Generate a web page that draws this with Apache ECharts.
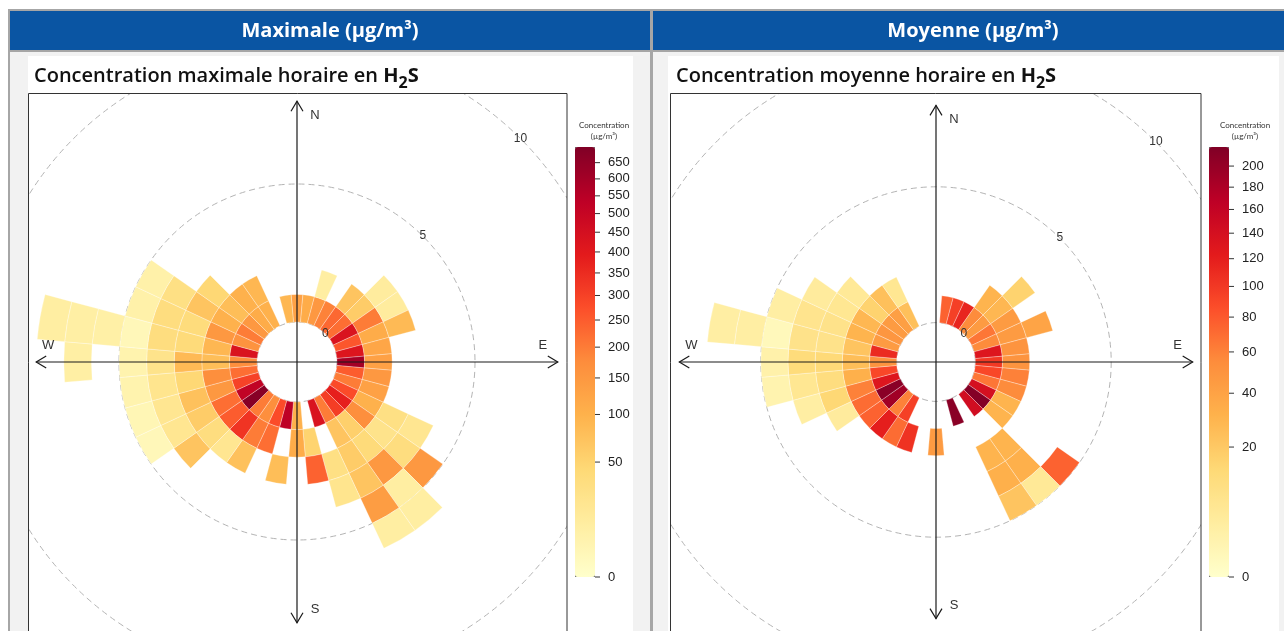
<!DOCTYPE html>
<html>
<head>
<meta charset="utf-8">
<title>Concentration horaire en H2S</title>
<script src="https://cdn.jsdelivr.net/npm/echarts@6.0.0/dist/echarts.min.js"></script>
<style>
  html, body { margin: 0; padding: 0; background: #ffffff; }
  #chart { width: 1284px; height: 631px; }
</style>
</head>
<body>
<div id="chart"></div>
<script>
// wind direction sectors (degrees, sector centres)
const directions = [0, 10, 20, 30, 40, 50, 60, 70, 80, 90, 100, 110, 120, 130, 140, 150, 160, 170,
  180, 190, 200, 210, 220, 230, 240, 250, 260, 270, 280, 290, 300, 310, 320, 330, 340, 350];

// maximum hourly H2S (µg/m3), one array per wind speed class (0-1, 1-2, ... m/s), one value per direction
const maxWs1 = [130, 110, 150, 190, 230, 220, 430, 260, 420, 600, 250, 200, 280, 380, 310, 200, 430, null,
  100, 530, 280, 170, 200, 680, 520, 300, 220, 170, 430, 160, 200, 150, 110, 100, null, 90];
const maxWs2 = [null, null, 10, null, 70, 60, 200, 110, 120, 130, 150, 130, 100, 170, 55, 70, null, 50,
  110, null, 220, 200, 330, 250, 220, 150, 170, 80, 90, 150, 100, 80, 100, 90, null, null];
const maxWs3 = [null, null, null, null, null, 12, 12, 85, null, null, null, null, 30, 25, 40, 60, 30, 240,
  null, 80, null, 75, 20, 35, 60, 75, 45, 85, 40, 38, 70, 45, null, null, null, null];
const maxWs4 = [null, null, null, null, null, null, null, null, null, null, null, null, 20, 35, 150, 70, 22, null,
  null, null, null, null, null, 70, 20, 20, 22, 25, 35, 35, 30, null, null, null, null, null];
const maxWs5 = [null, null, null, null, null, null, null, null, null, null, null, null, null, 150, 10, 140, null, null,
  null, null, null, null, null, null, 2, 3, 5, 5, 2, 7, 7, null, null, null, null, null];
const maxWs6 = [null, null, null, null, null, null, null, null, null, null, null, null, null, null, 10, 10, null, null,
  null, null, null, null, null, null, null, null, null, null, 8, null, null, null, null, null, null, null];
const maxWs7 = [null, null, null, null, null, null, null, null, null, null, null, null, null, null, null, null, null, null,
  null, null, null, null, null, null, null, null, null, 9, 9, null, null, null, null, null, null, null];
const maxWs8 = [null, null, null, null, null, null, null, null, null, null, null, null, null, null, null, null, null, null,
  null, null, null, null, null, null, null, null, null, null, 10, null, null, null, null, null, null, null];

// mean hourly H2S (µg/m3)
const meanWs1 = [null, 75, 95, 115, 55, 45, 65, 55, 130, 100, 90, 65, 140, 215, 145, null, 210, null,
  null, null, null, 95, 60, 190, 210, 130, 90, 50, 110, 45, 48, 45, 42, 24, null, null];
const meanWs2 = [null, null, null, null, 30, 28, 45, 45, 50, 50, 60, 55, 30, 30, null, null, null, null,
  45, null, 105, 70, 120, 75, 70, 60, 32, 25, 22, 30, 28, 16, 24, 6, null, null];
const meanWs3 = [null, null, null, null, null, 16, null, 39, null, null, null, null, null, null, 30, 30, null, null,
  null, null, null, null, null, null, 4, 14, 11, 13, 8, 8, 6, 5, null, null, null, null];
const meanWs4 = [null, null, null, null, null, null, null, null, null, null, null, null, null, null, 32, 32, null, null,
  null, null, null, null, null, null, null, 3, 6, 12, 8, 7, 4, null, null, null, null, null];
const meanWs5 = [null, null, null, null, null, null, null, null, null, null, null, null, null, 75, 5, 22, null, null,
  null, null, null, null, null, null, null, null, 1.5, 2, 0.5, 3, null, null, null, null, null, null];
const meanWs6 = [null, null, null, null, null, null, null, null, null, null, null, null, null, null, null, null, null, null,
  null, null, null, null, null, null, null, null, null, null, 3, null, null, null, null, null, null, null];
const meanWs7 = [null, null, null, null, null, null, null, null, null, null, null, null, null, null, null, null, null, null,
  null, null, null, null, null, null, null, null, null, null, 3, null, null, null, null, null, null, null];

// colour key
const maxTicks = [0, 50, 100, 150, 200, 250, 300, 350, 400, 450, 500, 550, 600, 650];
const meanTicks = [0, 20, 40, 60, 80, 100, 120, 140, 160, 180, 200];
const maxTop = 700;
const meanTop = 219;

// wind speed rings
const ringLabels = [0, 5, 10];
const compassReach = 8;

const YLORRD = ['#ffffcc', '#ffeda0', '#fed976', '#feb24c', '#fd8d3c', '#fc4e2a', '#e31a1c', '#bd0026', '#800026'];
const BLUE = '#0a55a3';
const GREY = '#f2f2f2';
const LINE = '#a6a6a6';
const FONT = 'Liberation Sans';
const TITLE_FONT = 'Open Sans';

function cellsFrom(bins) {
  const cells = [];
  bins.forEach((arr, k) => {
    arr.forEach((v, i) => {
      if (v != null) cells.push([k + 1, directions[i], Math.sqrt(v), v]);
    });
  });
  return cells;
}

function renderCell(params, api) {
  const cs = params.coordSys;
  const bin = api.value(0), dir = api.value(1);
  const pIn = api.coord([bin - 1, dir]);
  const pOut = api.coord([bin, dir]);
  const pA = api.coord([bin, (dir + 355) % 360]);
  const pB = api.coord([bin, (dir + 5) % 360]);
  const start = Math.atan2(pA[1] - cs.cy, pA[0] - cs.cx);
  let end = Math.atan2(pB[1] - cs.cy, pB[0] - cs.cx);
  while (end < start) end += Math.PI * 2;
  return {
    type: 'sector',
    shape: {
      cx: cs.cx, cy: cs.cy,
      r0: Math.hypot(pIn[0] - cs.cx, pIn[1] - cs.cy),
      r: Math.hypot(pOut[0] - cs.cx, pOut[1] - cs.cy),
      startAngle: start, endAngle: end, clockwise: true
    },
    style: { fill: api.visual('color'), stroke: 'rgba(255,255,255,0.5)', lineWidth: 0.6 }
  };
}

const compassPoints = [
  { label: 'N', deg: 0, dx: 18, dy: 14 },
  { label: 'E', deg: 90, dx: -15, dy: -17 },
  { label: 'S', deg: 180, dx: 18, dy: -13 },
  { label: 'W', deg: 270, dx: 12, dy: -17 }
];

function renderCompass(params, api) {
  const cs = params.coordSys;
  const kids = [];
  const ink = '#1a1a1a';
  const pts = compassPoints.map(c => api.coord([compassReach, c.deg]));
  kids.push({ type: 'line', shape: { x1: pts[0][0], y1: pts[0][1], x2: pts[2][0], y2: pts[2][1] }, style: { stroke: ink, lineWidth: 1.2 } });
  kids.push({ type: 'line', shape: { x1: pts[3][0], y1: pts[3][1], x2: pts[1][0], y2: pts[1][1] }, style: { stroke: ink, lineWidth: 1.2 } });
  compassPoints.forEach((c, i) => {
    const p = pts[i];
    const len = Math.hypot(p[0] - cs.cx, p[1] - cs.cy);
    const ux = (p[0] - cs.cx) / len, uy = (p[1] - cs.cy) / len;
    const bx = p[0] - ux * 10, by = p[1] - uy * 10;
    kids.push({
      type: 'polyline',
      shape: { points: [[bx - uy * 6, by + ux * 6], [p[0], p[1]], [bx + uy * 6, by - ux * 6]] },
      style: { stroke: ink, fill: null, lineWidth: 1.2 }
    });
    kids.push({
      type: 'text', x: p[0] + c.dx, y: p[1] + c.dy,
      style: { text: c.label, fill: '#333', fontSize: 13, fontFamily: FONT, align: 'center', verticalAlign: 'middle' }
    });
  });
  ringLabels.forEach(v => {
    const p = api.coord([v, 45]);
    kids.push({
      type: 'text', x: p[0], y: p[1],
      style: { text: String(v), fill: '#333', fontSize: 12, fontFamily: FONT, align: 'center', verticalAlign: 'middle' }
    });
  });
  return { type: 'group', children: kids };
}

// tick marks and labels of a colour key, placed through the key grid's own y scale
function renderKeyTick(params, api) {
  const p = api.coord([1, api.value(1)]);
  return {
    type: 'group',
    children: [
      { type: 'line', shape: { x1: p[0], y1: p[1], x2: p[0] + 5, y2: p[1] }, style: { stroke: '#333', lineWidth: 1 } },
      { type: 'text', x: p[0] + 13, y: p[1],
        style: { text: String(api.value(2)), fill: '#222', fontSize: 13, fontFamily: FONT, align: 'left', verticalAlign: 'middle' } }
    ]
  };
}

function keyAxis(gridIndex, topValue) {
  return { gridIndex, type: 'value', min: 0, max: Math.sqrt(topValue), show: false };
}

function keyBar(seriesIndex, topValue, left) {
  return {
    type: 'continuous', seriesIndex, dimension: 2, min: 0, max: Math.sqrt(topValue),
    inRange: { color: YLORRD }, left, top: 147, itemWidth: 20, itemHeight: 430,
    padding: 0, calculable: false, hoverLink: false, z: 60
  };
}

function rect(x, y, w, h, fill, z) {
  return { type: 'rect', silent: true, z, shape: { x, y, width: w, height: h }, style: { fill } };
}
function frame(x, y, w, h) {
  return { type: 'rect', silent: true, z: 52, shape: { x, y, width: w, height: h }, style: { fill: null, stroke: '#333', lineWidth: 1 } };
}
function title(x, main) {
  const base = { fontSize: 20, fontFamily: TITLE_FONT, fontWeight: 600, fill: '#111', lineHeight: 24, verticalAlign: 'bottom', padding: [0, 0, 5, 0] };
  return {
    type: 'text', silent: true, z: 53, x, y: 67,
    style: {
      text: '{t|' + main + ' }{h|H}{s|2}{h|S}', verticalAlign: 'top',
      rich: {
        t: base,
        h: Object.assign({}, base, { fontWeight: 700 }),
        s: { fontSize: 16, fontFamily: TITLE_FONT, fontWeight: 700, fill: '#111', lineHeight: 18, verticalAlign: 'bottom' }
      }
    }
  };
}
function keyTitle(cx) {
  return [
    { type: 'text', silent: true, z: 53, x: cx, y: 125, style: { text: 'Concentration', fontSize: 8, fontFamily: 'Lato', fill: '#333', align: 'center', verticalAlign: 'middle' } },
    { type: 'text', silent: true, z: 53, x: cx, y: 136, style: { text: '(µg/m³)', fontSize: 8, fontFamily: 'Lato', fill: '#333', align: 'center', verticalAlign: 'middle' } }
  ];
}

const page = [
  rect(0, 0, 1284, 9, '#ffffff', 50),
  rect(0, 0, 8, 631, '#ffffff', 50),
  rect(8, 9, 1276, 2, LINE, 50),
  rect(8, 9, 2, 622, LINE, 50),
  rect(10, 11, 640, 39, BLUE, 50),
  rect(653, 11, 631, 39, BLUE, 50),
  rect(650, 11, 3, 620, LINE, 50),
  rect(10, 50, 1274, 2, LINE, 50),
  rect(10, 52, 640, 41, GREY, 50),
  rect(653, 52, 631, 41, GREY, 50),
  rect(10, 93, 18, 538, GREY, 50),
  rect(633, 93, 17, 538, GREY, 50),
  rect(653, 93, 15, 538, GREY, 50),
  rect(1279, 93, 5, 538, GREY, 50),
  rect(28, 56, 605, 37, '#ffffff', 51),
  rect(567, 93, 66, 538, '#ffffff', 51),
  rect(668, 56, 611, 37, '#ffffff', 51),
  rect(668, 93, 2, 538, '#ffffff', 51),
  rect(1201, 93, 78, 538, '#ffffff', 51),
  frame(28.5, 93.5, 538.5, 545),
  frame(670.5, 93.5, 530.5, 545),
  frame(575.5, 147.5, 19, 429),
  frame(1209.5, 147.5, 19, 429),
  { type: 'text', silent: true, z: 53, x: 330, y: 31, style: { text: 'Maximale (µg/m³)', fill: '#ffffff', fontSize: 20, fontWeight: 700, fontFamily: TITLE_FONT, align: 'center', verticalAlign: 'middle' } },
  { type: 'text', silent: true, z: 53, x: 973, y: 31, style: { text: 'Moyenne (µg/m³)', fill: '#ffffff', fontSize: 20, fontWeight: 700, fontFamily: TITLE_FONT, align: 'center', verticalAlign: 'middle' } },
  title(34, 'Concentration maximale horaire en'),
  title(676, 'Concentration moyenne horaire en'),
  ...keyTitle(604),
  ...keyTitle(1245)
];

const polarAxisOff = { axisLine: { show: false }, axisTick: { show: false }, axisLabel: { show: false }, splitLine: { show: false } };

const option = {
  animation: false,
  backgroundColor: '#ffffff',
  polar: [
    { center: [297, 362], radius: [40, 316] },
    { center: [936, 362], radius: [39.4, 311] }
  ],
  angleAxis: [0, 1].map(i => Object.assign({ polarIndex: i, type: 'value', min: 0, max: 360, startAngle: 90, clockwise: true }, polarAxisOff)),
  radiusAxis: [0, 1].map(i => ({
    polarIndex: i, type: 'value', min: 0, max: 10, interval: 5,
    axisLine: { show: false }, axisTick: { show: false }, axisLabel: { show: false },
    splitLine: { show: true, lineStyle: { color: '#b4b4b4', width: 1, type: [6, 4] } }
  })),
  grid: [
    { left: 575, top: 147, width: 20, height: 430 },
    { left: 1209, top: 147, width: 20, height: 430 }
  ],
  xAxis: [
    { gridIndex: 0, type: 'value', min: 0, max: 1, show: false },
    { gridIndex: 1, type: 'value', min: 0, max: 1, show: false }
  ],
  yAxis: [keyAxis(0, maxTop), keyAxis(1, meanTop)],
  visualMap: [keyBar(0, maxTop, 575), keyBar(2, meanTop, 1209)],
  graphic: { elements: page },
  series: [
    { type: 'custom', coordinateSystem: 'polar', polarIndex: 0, silent: true, z: 2,
      data: cellsFrom([maxWs1, maxWs2, maxWs3, maxWs4, maxWs5, maxWs6, maxWs7, maxWs8]), renderItem: renderCell },
    { type: 'custom', coordinateSystem: 'polar', polarIndex: 0, silent: true, z: 3, data: [[0, 0]], renderItem: renderCompass },
    { type: 'custom', coordinateSystem: 'polar', polarIndex: 1, silent: true, z: 2,
      data: cellsFrom([meanWs1, meanWs2, meanWs3, meanWs4, meanWs5, meanWs6, meanWs7]), renderItem: renderCell },
    { type: 'custom', coordinateSystem: 'polar', polarIndex: 1, silent: true, z: 3, data: [[0, 0]], renderItem: renderCompass },
    { type: 'custom', coordinateSystem: 'cartesian2d', xAxisIndex: 0, yAxisIndex: 0, silent: true, z: 63,
      data: maxTicks.map(v => [1, Math.sqrt(v), v]), renderItem: renderKeyTick },
    { type: 'custom', coordinateSystem: 'cartesian2d', xAxisIndex: 1, yAxisIndex: 1, silent: true, z: 63,
      data: meanTicks.map(v => [1, Math.sqrt(v), v]), renderItem: renderKeyTick }
  ]
};

const chart = echarts.init(document.getElementById('chart'));
chart.setOption(option);
</script>
</body>
</html>
